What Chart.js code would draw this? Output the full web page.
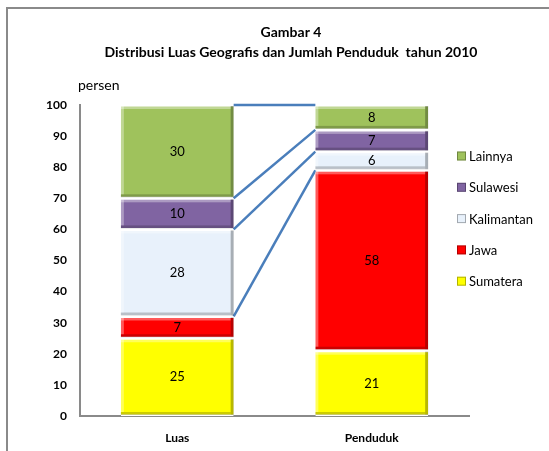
<!DOCTYPE html>
<html>
<head>
<meta charset="utf-8">
<script src="https://cdn.jsdelivr.net/npm/chart.js@4"></script>
<style>
  html, body { margin: 0; padding: 0; background: #fff; }
  #wrap { position: relative; width: 549px; height: 451px; }
</style>
</head>
<body>
<div id="wrap"><canvas id="chart" width="549" height="451"></canvas></div>
<script>
// ---- data ----
const categories = ['Luas', 'Penduduk'];
const regions    = ['Sumatera', 'Jawa', 'Kalimantan', 'Sulawesi', 'Lainnya'];
const sumatera   = [25, 21];
const jawa       = [7, 58];
const kalimantan = [28, 6];
const sulawesi   = [10, 7];
const lainnya    = [30, 8];
const yTicks     = [0, 10, 20, 30, 40, 50, 60, 70, 80, 90, 100];

const colors = ['#ffff00', '#ff0000', '#e8f1fb', '#8064a2', '#9fc25c'];
const FONT = 'Lato, "Open Sans", sans-serif';

const seriesValues = [sumatera, jawa, kalimantan, sulawesi, lainnya];

// frame, title, axis caption, legend, value labels, series lines
const decorations = {
  id: 'decorations',
  beforeDraw(chart) {
    const ctx = chart.ctx;
    ctx.save();
    ctx.strokeStyle = '#8a8a8a';
    ctx.lineWidth = 2;
    ctx.beginPath();
    ctx.moveTo(7, 460);
    ctx.lineTo(7, 8);
    ctx.lineTo(560, 8);
    ctx.stroke();

    ctx.fillStyle = '#000';
    ctx.textAlign = 'center';
    ctx.textBaseline = 'middle';
    ctx.font = 'bold 14px ' + FONT;
    ctx.fillText('Gambar 4', 291, 32);
    ctx.fillText('Distribusi Luas Geografis dan Jumlah Penduduk  tahun 2010', 291, 52);

    ctx.textAlign = 'left';
    ctx.font = '14px ' + FONT;
    ctx.fillText('persen', 78, 85);
    ctx.restore();
  },
  afterDatasetsDraw(chart) {
    const ctx = chart.ctx;
    ctx.save();

    // series lines between the two stacks
    ctx.strokeStyle = '#4a7ebb';
    ctx.lineWidth = 2.5;
    for (let i = 1; i < seriesValues.length; i++) {
      const bars = chart.getDatasetMeta(i).data;
      const a = bars[0], b = bars[1];
      ctx.beginPath();
      ctx.moveTo(a.x + a.width / 2, a.y);
      ctx.lineTo(b.x - b.width / 2, b.y);
      ctx.stroke();
    }

    // bevel-ish edges
    chart.data.datasets.forEach((ds, i) => {
      chart.getDatasetMeta(i).data.forEach(bar => {
        const l = bar.x - bar.width / 2, r = bar.x + bar.width / 2;
        const t = bar.y + 1, btm = bar.base - 1;
        ctx.fillStyle = 'rgba(0,0,0,0.28)';
        ctx.fillRect(r - 3, t, 3, btm - t);
        ctx.fillStyle = 'rgba(0,0,0,0.2)';
        ctx.fillRect(l, btm - 3, r - l - 3, 3);
        ctx.fillStyle = 'rgba(255,255,255,0.35)';
        ctx.fillRect(l, t, r - l - 3, 3);
        ctx.fillRect(l, t, 3, btm - t - 3);
      });
    });

    // value labels
    ctx.fillStyle = '#000';
    ctx.font = '13px ' + FONT;
    ctx.textAlign = 'center';
    ctx.textBaseline = 'middle';
    chart.data.datasets.forEach((ds, i) => {
      chart.getDatasetMeta(i).data.forEach((bar, j) => {
        ctx.fillText(String(ds.data[j]), bar.x, (bar.y + bar.base) / 2);
      });
    });

    // legend (reversed order)
    ctx.font = '13px ' + FONT;
    ctx.textAlign = 'left';
    const items = chart.data.datasets.slice().reverse();
    items.forEach((ds, k) => {
      const y = 156 + k * 31.3;
      ctx.fillStyle = ds.backgroundColor;
      ctx.fillRect(457, y - 4.5, 9, 9);
      ctx.strokeStyle = 'rgba(0,0,0,0.3)';
      ctx.lineWidth = 1;
      ctx.strokeRect(457.5, y - 4, 8, 8);
      ctx.fillStyle = '#000';
      ctx.fillText(ds.label, 469, y + 1);
    });
    ctx.restore();
  }
};

new Chart(document.getElementById('chart'), {
  type: 'bar',
  data: {
    labels: categories,
    datasets: regions.map((name, i) => ({
      label: name,
      data: seriesValues[i],
      backgroundColor: colors[i],
      borderColor: '#ffffff',
      borderWidth: { top: 1.5, bottom: 1.5, left: 0, right: 0 },
      borderSkipped: false,
      barPercentage: 0.58,
      categoryPercentage: 1
    }))
  },
  options: {
    responsive: false,
    animation: false,
    layout: { padding: { left: 20, right: 80, top: 105, bottom: 0 } },
    plugins: {
      legend: { display: false },
      title: { display: false },
      tooltip: { enabled: false }
    },
    scales: {
      x: {
        stacked: true,
        grid: { display: false, drawTicks: false },
        border: { color: '#8a8a8a', width: 2 },
        ticks: { color: '#000', font: { family: FONT, size: 12, weight: 'bold' }, padding: 15 },
        afterFit(s) { s.height = 35; }
      },
      y: {
        stacked: true,
        min: 0,
        max: 100,
        afterBuildTicks(s) { s.ticks = yTicks.map(v => ({ value: v })); },
        grid: { display: false, drawTicks: false },
        border: { color: '#8a8a8a', width: 2 },
        ticks: { color: '#000', font: { family: FONT, size: 12, weight: 'bold' }, padding: 13 },
        afterFit(s) { s.width = 60; }
      }
    }
  },
  plugins: [decorations]
});
</script>
</body>
</html>
